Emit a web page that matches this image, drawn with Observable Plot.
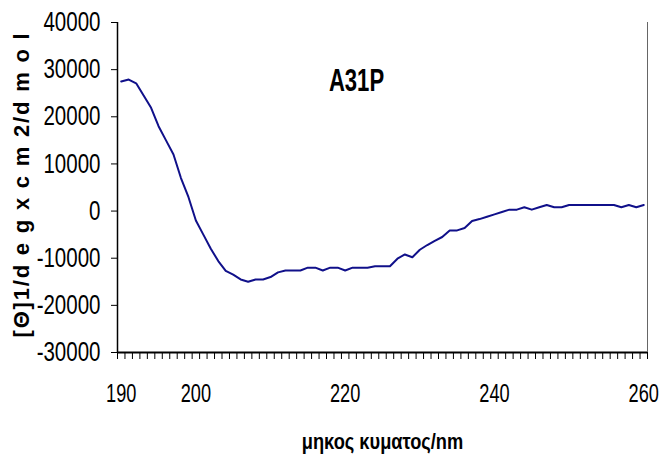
<!DOCTYPE html>
<html>
<head>
<meta charset="utf-8">
<script src="https://cdn.jsdelivr.net/npm/d3@7"></script>
<script src="https://cdn.jsdelivr.net/npm/@observablehq/plot@0.6"></script>
<style>
  html, body { margin: 0; padding: 0; background: #fff; }
  #chart { width: 662px; height: 463px; }
</style>
</head>
<body>
<div id="chart"></div>
<script>
// Wavelength (nm) and mean residue ellipticity values
const wavelengths = [190,191,192,193,194,195,196,197,198,199,200,201,202,203,204,205,206,207,208,209,210,211,212,213,214,215,216,217,218,219,220,221,222,223,224,225,226,227,228,229,230,231,232,233,234,235,236,237,238,239,240,241,242,243,244,245,246,247,248,249,250,251,252,253,254,255,256,257,258,259,260];
const ellipticity = [27500,27900,27100,24500,21900,18000,15000,12000,7000,3000,-2000,-5000,-8000,-10600,-12700,-13500,-14500,-15000,-14500,-14500,-14000,-13000,-12600,-12600,-12600,-12000,-12000,-12600,-12000,-12000,-12600,-12000,-12000,-12000,-11700,-11700,-11700,-10100,-9200,-9800,-8200,-7200,-6300,-5500,-4100,-4100,-3600,-2100,-1700,-1200,-700,-200,300,300,800,300,800,1300,800,800,1300,1300,1300,1300,1300,1300,1300,800,1300,800,1300];

const xDomain = [189.5, 260.5];
const yDomain = [-30000, 40000];
const xLabelTicks = [190, 200, 220, 240, 260];
const xMinorTicks = [189.5,190.5,191.5,192.5,193.5,194.5,195.5,196.5,197.5,198.5,199.5,200.5,201.5,202.5,203.5,204.5,205.5,206.5,207.5,208.5,209.5,210.5,211.5,212.5,213.5,214.5,215.5,216.5,217.5,218.5,219.5,220.5,221.5,222.5,223.5,224.5,225.5,226.5,227.5,228.5,229.5,230.5,231.5,232.5,233.5,234.5,235.5,236.5,237.5,238.5,239.5,240.5,241.5,242.5,243.5,244.5,245.5,246.5,247.5,248.5,249.5,250.5,251.5,252.5,253.5,254.5,255.5,256.5,257.5,258.5,259.5,260.5];
const yTicks = [-30000,-20000,-10000,0,10000,20000,30000,40000];

const title = "A31P";
const yLabel = "[Θ]1/d e g x c m 2/d m o l";
const xLabel = "μηκος κυματος/nm";

const data = wavelengths.map((w, i) => ({w, v: ellipticity[i]}));
const FONT = "'Liberation Sans', Arial, sans-serif";

const chart = Plot.plot({
  width: 662,
  height: 463,
  marginLeft: 117,
  marginRight: 15,
  marginTop: 22,
  marginBottom: 111,
  style: {fontFamily: FONT, background: "#fff", color: "#000"},
  x: {domain: xDomain, type: "linear"},
  y: {domain: yDomain},
  marks: [
    Plot.ruleX([xDomain[1]], {stroke: "#666", strokeWidth: 1}),
    Plot.axisY({ticks: yTicks, tickSize: 6, tickPadding: 11, tickFormat: d => String(d), fontSize: 27, label: null, stroke: "#000"}),
    Plot.axisX({ticks: xMinorTicks, tickSize: 7, tickFormat: () => "", label: null, stroke: "#000"}),
    Plot.axisX({ticks: xLabelTicks, tickSize: 0, tickPadding: 31, tickFormat: d => String(d), fontSize: 26, label: null}),
    Plot.ruleY([yDomain[0]], {stroke: "#000", strokeWidth: 2}),
    Plot.ruleX([xDomain[0]], {stroke: "#000", strokeWidth: 1.5}),
    Plot.line(data, {x: "w", y: "v", stroke: "#10108a", strokeWidth: 2}),
    Plot.text([title], {frameAnchor: "top", dx: -26, dy: 58, lineAnchor: "middle", text: d => d, fontSize: 32, fontWeight: "bold", fill: "#000"}),
    Plot.text([yLabel], {frameAnchor: "left", dx: -96, dy: -3, textAnchor: "middle", lineAnchor: "middle", rotate: -90, text: d => d, fontSize: 22, fontWeight: "bold", fill: "#000"}),
    Plot.text([xLabel], {frameAnchor: "bottom", dy: 89, textAnchor: "middle", lineAnchor: "middle", text: d => d, fontSize: 22, fontWeight: "bold", fill: "#000"})
  ]
});

// Emulate the narrow typeface of the original by compressing text horizontally
function squeeze(nodes, s) {
  nodes.forEach(t => {
    let tr = t.getAttribute("transform");
    if (!tr) {
      const x = t.getAttribute("x") || 0, y = t.getAttribute("y") || 0;
      t.removeAttribute("x"); t.removeAttribute("y");
      tr = `translate(${x},${y})`;
    }
    t.setAttribute("transform", tr + ` scale(${s},1)`);
  });
}
squeeze(chart.querySelectorAll('g[aria-label="y-axis tick label"] text'), 0.76);
squeeze(chart.querySelectorAll('g[aria-label="x-axis tick label"] text'), 0.7);
const texts = Array.from(chart.querySelectorAll('g[aria-label="text"] text'));
squeeze(texts.filter(t => t.textContent === title), 0.69);
squeeze(texts.filter(t => t.textContent === xLabel), 0.83);
texts.filter(t => t.textContent === yLabel).forEach(t => t.setAttribute("letter-spacing", "1.8"));

document.getElementById("chart").appendChild(chart);
</script>
</body>
</html>
